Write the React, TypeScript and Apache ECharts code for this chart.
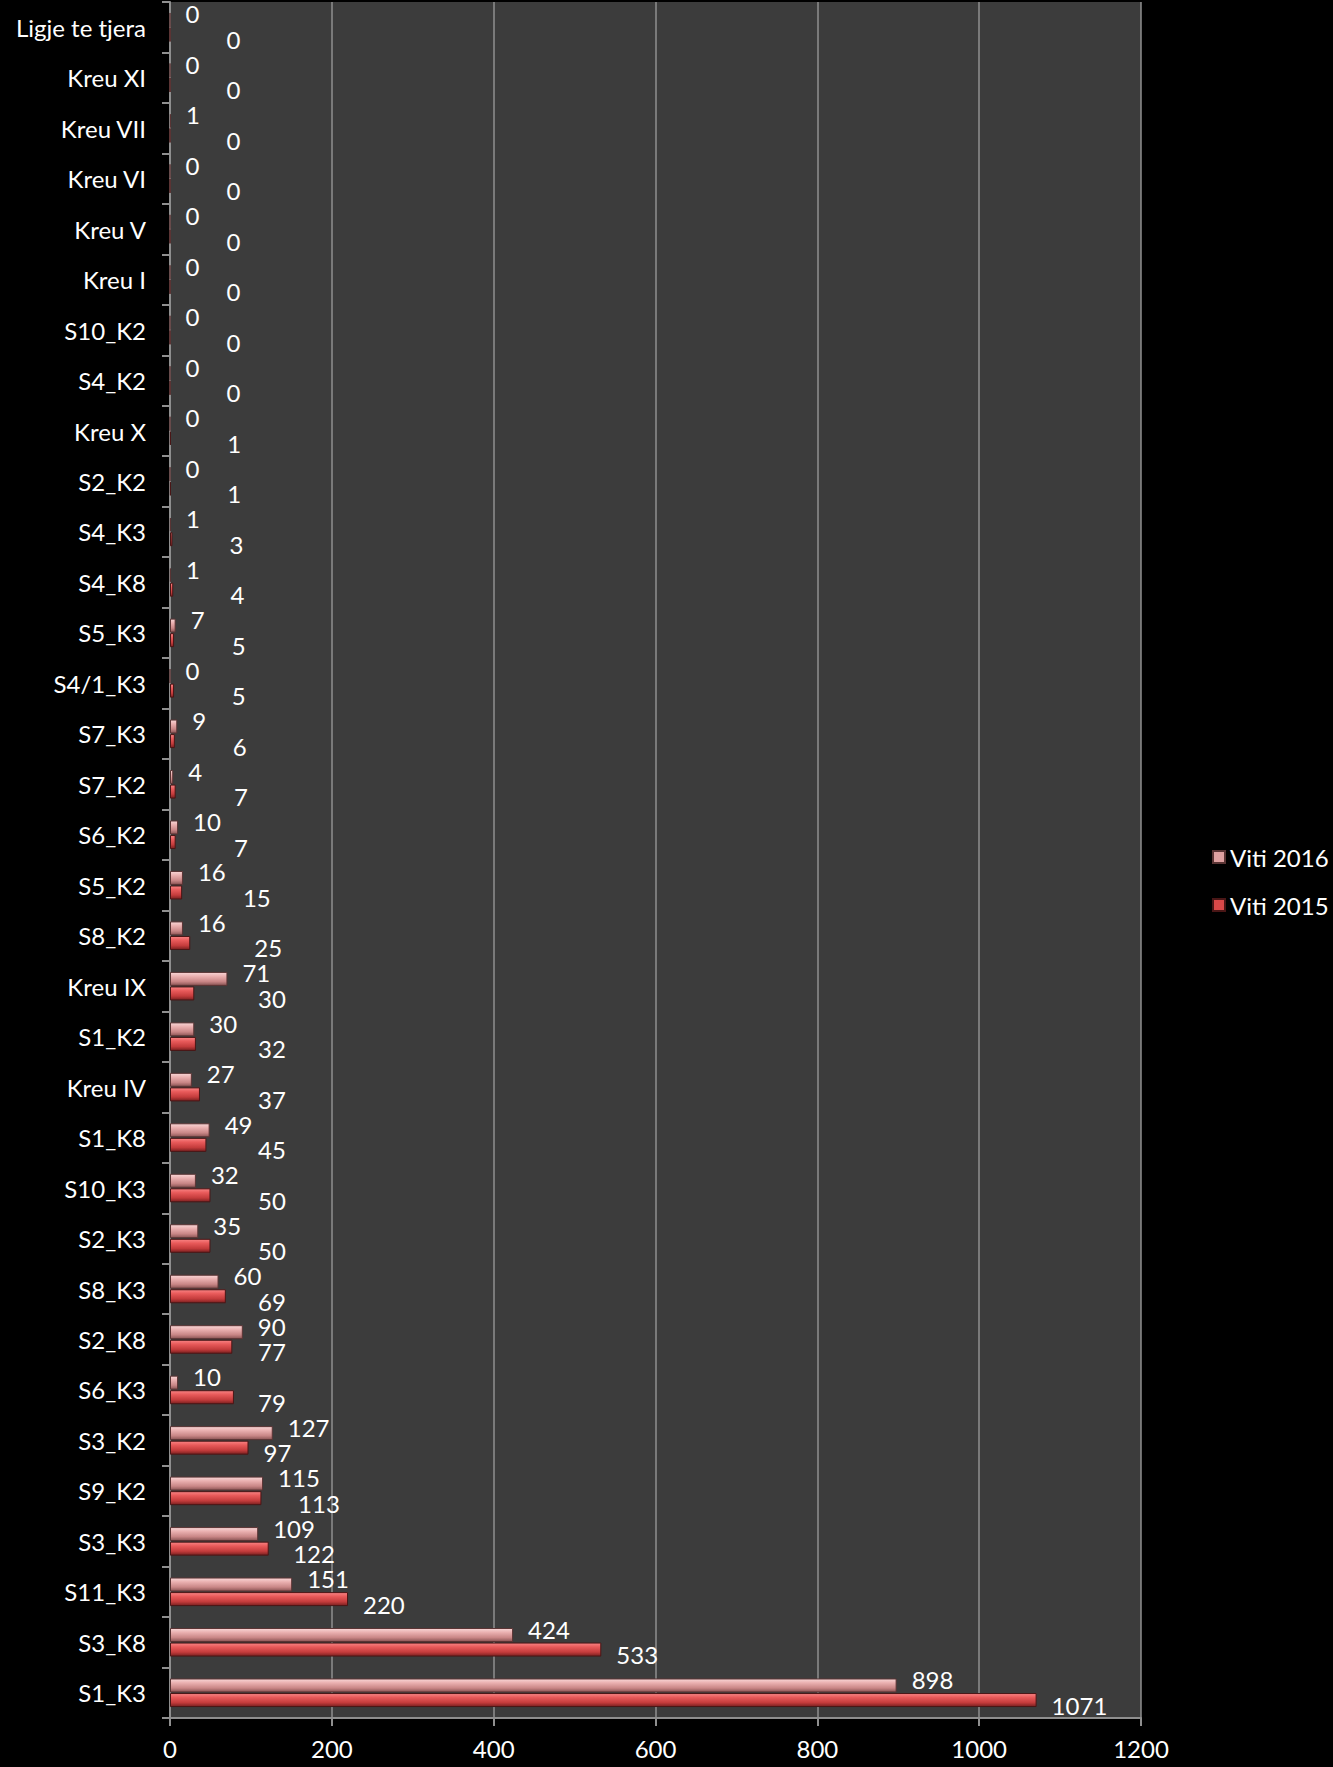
import React, { useEffect, useRef } from "react";
import * as echarts from "echarts";

// bottom to top
const categories = [
  "S1_K3", "S3_K8", "S11_K3", "S3_K3", "S9_K2", "S3_K2", "S6_K3", "S2_K8", "S8_K3",
  "S2_K3", "S10_K3", "S1_K8", "Kreu IV", "S1_K2", "Kreu IX", "S8_K2", "S5_K2", "S6_K2",
  "S7_K2", "S7_K3", "S4/1_K3", "S5_K3", "S4_K8", "S4_K3", "S2_K2", "Kreu X", "S4_K2",
  "S10_K2", "Kreu I", "Kreu V", "Kreu VI", "Kreu VII", "Kreu XI", "Ligje te tjera",
];
const viti2016 = [
  898, 424, 151, 109, 115, 127, 10, 90, 60, 35, 32, 49, 27, 30, 71, 16, 16, 10,
  4, 9, 0, 7, 1, 1, 0, 0, 0, 0, 0, 0, 0, 1, 0, 0,
];
const viti2015 = [
  1071, 533, 220, 122, 113, 97, 79, 77, 69, 50, 50, 45, 37, 32, 30, 25, 15, 7,
  7, 6, 5, 5, 4, 3, 1, 1, 0, 0, 0, 0, 0, 0, 0, 0,
];
const xTicks = [0, 200, 400, 600, 800, 1000, 1200];

const FONT = "Lato";
const FS = 24;

export default function App() {
  const ref = useRef<HTMLDivElement>(null);
  useEffect(() => {
    document.body.style.margin = "0";
    document.body.style.background = "#000000";
    if (!ref.current) return;
    const chart = echarts.init(ref.current, undefined, { renderer: "svg" });
    const gridLeft = 170;
    const gridRight = 192;
    const plotW = 1333 - gridLeft - gridRight;
    const pxPerUnit = plotW / xTicks[xTicks.length - 1];

    // label placement rule (mimics the spreadsheet's staggered labels)
    const left16 = viti2016.map((v) => v * pxPerUnit + 15);
    const data2016 = viti2016.map((v, i) => ({
      value: v,
      label: { offset: [left16[i] - v * pxPerUnit - 5, -6] },
    }));
    const data2015 = viti2015.map((v, i) => {
      const barEnd = v * pxPerUnit;
      let left = Math.max(barEnd + 15, Math.min(56 + v * 1.13, 88));
      if (v >= 100) left = Math.max(left, left16[i] + 20);
      return { value: v, label: { offset: [left - barEnd - 5, 5] } };
    });

    const grad2016 = new echarts.graphic.LinearGradient(0, 0, 0, 1, [
      { offset: 0, color: "#f8d6d6" },
      { offset: 0.3, color: "#eab0b0" },
      { offset: 0.7, color: "#c98686" },
      { offset: 1, color: "#8a5454" },
    ]);
    const grad2015 = new echarts.graphic.LinearGradient(0, 0, 0, 1, [
      { offset: 0, color: "#f98484" },
      { offset: 0.3, color: "#e85a5a" },
      { offset: 0.7, color: "#c43c3c" },
      { offset: 1, color: "#7a2020" },
    ]);

    chart.setOption({
      animation: false,
      backgroundColor: "#000000",
      textStyle: { fontFamily: FONT },
      legend: {
        orient: "vertical",
        left: 1207,
        top: 840,
        itemWidth: 12,
        itemHeight: 12,
        itemGap: 24,
        data: [
          { name: "Viti 2016", icon: "rect", itemStyle: { color: "#dea0a0" } },
          { name: "Viti 2015", icon: "rect", itemStyle: { color: "#d94848" } },
        ],
        textStyle: { color: "#ffffff", fontSize: FS, fontFamily: FONT },
      },
      grid: {
        left: gridLeft,
        right: gridRight,
        top: 2,
        bottom: 49,
        show: true,
        backgroundColor: "#3c3c3c",
        borderWidth: 0,
      },
      xAxis: {
        type: "value",
        min: 0,
        max: 1200,
        interval: 200,
        axisLine: { show: true, lineStyle: { color: "#8f8f8f", width: 2 } },
        axisTick: { show: true, length: 8, lineStyle: { color: "#8f8f8f", width: 2 } },
        splitLine: { show: true, lineStyle: { color: "#8f8f8f", width: 1.5 } },
        axisLabel: {
          color: "#ffffff",
          fontSize: FS,
          fontFamily: FONT,
          margin: 18,
          formatter: (v: number) => String(v),
        },
      },
      yAxis: {
        type: "category",
        data: categories,
        axisLine: { show: true, lineStyle: { color: "#8f8f8f", width: 2 } },
        axisTick: { show: true, length: 8, lineStyle: { color: "#8f8f8f", width: 2 } },
        axisLabel: {
          color: "#ffffff",
          fontSize: FS,
          fontFamily: FONT,
          margin: 24,
        },
      },
      series: [
        {
          name: "Viti 2016",
          type: "bar",
          data: data2016,
          barWidth: 14,
          barGap: "4%",
          itemStyle: { color: grad2016, borderColor: "#5a3434", borderWidth: 1 },
          label: {
            show: true,
            position: "right",
            distance: 5,
            color: "#ffffff",
            fontSize: FS,
            fontFamily: FONT,
          },
        },
        {
          name: "Viti 2015",
          type: "bar",
          data: data2015,
          barWidth: 14,
          itemStyle: { color: grad2015, borderColor: "#4a1616", borderWidth: 1 },
          label: {
            show: true,
            position: "right",
            distance: 5,
            color: "#ffffff",
            fontSize: FS,
            fontFamily: FONT,
          },
        },
      ],
    });
    return () => chart.dispose();
  }, []);
  return <div ref={ref} style={{ width: 1333, height: 1767 }} />;
}
